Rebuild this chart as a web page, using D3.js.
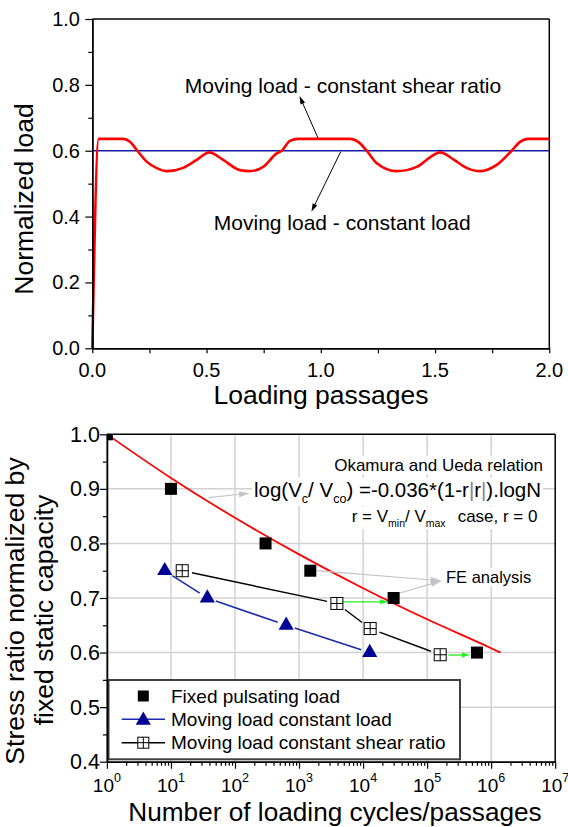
<!DOCTYPE html>
<html><head><meta charset="utf-8">
<script src="https://cdn.jsdelivr.net/npm/d3@7"></script>
<style>body{margin:0;background:#fff}svg{display:block}</style>
</head><body><svg id="c" width="568" height="827"></svg>
<script>
// ===== Top chart data =====
const passX = [0, 0.028, 0.136, 0.165, 0.197, 0.238, 0.282, 0.326, 0.398, 0.457, 0.512, 0.573, 0.646, 0.69, 0.748, 0.807, 0.829, 0.865, 0.90,
               1.128, 1.164, 1.201, 1.245, 1.332, 1.42, 1.478, 1.522, 1.58, 1.638, 1.697, 1.77, 1.835, 1.872, 1.908, 2.0];
const shearRatioLoad = [0, 0.636, 0.636, 0.627, 0.600, 0.567, 0.547, 0.538, 0.548, 0.572, 0.595, 0.572, 0.541, 0.538, 0.551, 0.592, 0.600, 0.630, 0.636,
               0.636, 0.627, 0.600, 0.562, 0.538, 0.551, 0.580, 0.595, 0.574, 0.548, 0.538, 0.557, 0.600, 0.627, 0.636, 0.636];
const constLoadX = [0, 2];
const constLoadY = [0.6, 0.6];
const topXTicks = [0, 0.5, 1.0, 1.5, 2.0];
const topXMinor = [0.25, 0.75, 1.25, 1.75];
const topYTicks = [0, 0.2, 0.4, 0.6, 0.8, 1.0];
const topYMinor = [0.1, 0.3, 0.5, 0.7, 0.9];

// ===== Bottom chart data =====
const fixedN = [1, 10, 300, 1500, 30000, 600000];
const fixedS = [1.0, 0.90, 0.80, 0.75, 0.70, 0.60];
const movLoadN = [8, 37, 630, 12700];
const movLoadS = [0.75, 0.70, 0.65, 0.60];
const movShearN = [15, 3900, 12900, 160000];
const movShearS = [0.75, 0.69, 0.644, 0.596];
const okamuraN = [1, 10, 100, 1000, 10000, 100000, 1000000, 1400000];
const okamuraS = [1.0, 0.920, 0.847, 0.780, 0.718, 0.661, 0.608, 0.600];
const botXExp = [0, 1, 2, 3, 4, 5, 6, 7];
const botYTicks = [0.4, 0.5, 0.6, 0.7, 0.8, 0.9, 1.0];
const botYMinor = [0.45, 0.55, 0.65, 0.75, 0.85, 0.95];
const gridN = [10, 100, 1000, 10000, 100000, 1000000];
const gridS = [0.5, 0.6, 0.7, 0.8, 0.9];

const F = "'Liberation Sans', Arial, Helvetica, sans-serif";
const svg = d3.select("#c");

function arrow(g, x1, y1, x2, y2, color, w, hl, hw) {
  const dx = x2 - x1, dy = y2 - y1, L = Math.hypot(dx, dy), ux = dx / L, uy = dy / L;
  const bx = x2 - ux * hl, by = y2 - uy * hl;
  g.append("line").attr("x1", x1).attr("y1", y1).attr("x2", bx + ux * 1).attr("y2", by + uy * 1)
    .attr("stroke", color).attr("stroke-width", w);
  g.append("path").attr("d", `M${x2},${y2}L${bx - uy * hw / 2},${by + ux * hw / 2}L${bx + uy * hw / 2},${by - ux * hw / 2}Z`)
    .attr("fill", color);
}
function styleAxis(sel) {
  sel.selectAll("path.domain").attr("stroke", "#000").attr("stroke-width", 1.5);
  sel.selectAll(".tick line").attr("stroke", "#000").attr("stroke-width", 1.2);
}

// ================= TOP CHART =================
const xT = d3.scaleLinear().domain([0, 2]).range([92.3, 549.3]);
const yT = d3.scaleLinear().domain([0, 1]).range([348.3, 19]);
const gT = svg.append("g");

gT.append("line").attr("x1", xT(0)).attr("x2", xT(2)).attr("y1", yT(1)).attr("y2", yT(1)).attr("stroke", "#000").attr("stroke-width", 1.5);
gT.append("line").attr("x1", xT(2)).attr("x2", xT(2)).attr("y1", yT(0)).attr("y2", yT(1)).attr("stroke", "#000").attr("stroke-width", 1.5);

gT.append("path")
  .attr("d", d3.line().x((d, i) => xT(constLoadX[i])).y((d, i) => yT(constLoadY[i]))(constLoadX))
  .attr("fill", "none").attr("stroke", "#1818a8").attr("stroke-width", 1.6);
gT.append("path")
  .attr("d", d3.line().x((d, i) => xT(passX[i])).y((d, i) => yT(shearRatioLoad[i])).curve(d3.curveMonotoneX)(passX))
  .attr("fill", "none").attr("stroke", "#ff0000").attr("stroke-width", 2.6).attr("stroke-linejoin", "round");

// axes
gT.append("g").attr("transform", `translate(0,${yT(0)})`)
  .call(d3.axisBottom(xT).tickValues(topXTicks).tickSize(5).tickSizeOuter(0).tickFormat("")).call(styleAxis);
gT.append("g").attr("transform", `translate(0,${yT(0)})`)
  .call(d3.axisBottom(xT).tickValues(topXMinor).tickSize(5).tickSizeOuter(0).tickFormat("")).call(styleAxis);
gT.append("g").attr("transform", `translate(${xT(0)},0)`)
  .call(d3.axisLeft(yT).tickValues(topYTicks).tickSize(7).tickSizeOuter(0).tickFormat("")).call(styleAxis);
gT.append("g").attr("transform", `translate(${xT(0)},0)`)
  .call(d3.axisLeft(yT).tickValues(topYMinor).tickSize(4).tickSizeOuter(0).tickFormat("")).call(styleAxis);

topXTicks.forEach(v => gT.append("text").attr("x", xT(v)).attr("y", 377).attr("text-anchor", "middle")
  .attr("font-family", F).attr("font-size", 20).text(d3.format(".1f")(v)));
topYTicks.forEach(v => gT.append("text").attr("x", 80).attr("y", yT(v) + 7).attr("text-anchor", "end")
  .attr("font-family", F).attr("font-size", 20).text(d3.format(".1f")(v)));

gT.append("text").attr("x", 321).attr("y", 404).attr("text-anchor", "middle").attr("font-family", F)
  .attr("font-size", 26.5).text("Loading passages");
gT.append("text").attr("transform", "translate(33,199) rotate(-90)").attr("text-anchor", "middle").attr("font-family", F)
  .attr("font-size", 26.5).text("Normalized load");

gT.append("text").attr("x", 184.8).attr("y", 93.3).attr("font-family", F).attr("font-size", 21)
  .text("Moving load - constant shear ratio");
gT.append("text").attr("x", 213.8).attr("y", 230).attr("font-family", F).attr("font-size", 21)
  .text("Moving load - constant load");
arrow(gT, xT(0.988), yT(0.638), xT(0.907), yT(0.766), "#000", 1, 8, 5);
arrow(gT, xT(1.087), yT(0.597), xT(0.959), yT(0.415), "#000", 1, 8, 5);

// ================= BOTTOM CHART =================
const xB = d3.scaleLog().domain([1, 1e7]).range([106.9, 555.2]);
const yB = d3.scaleLinear().domain([0.4, 1.0]).range([761.7, 434.3]);
const gB = svg.append("g");

svg.append("defs").append("clipPath").attr("id", "clipB").append("rect")
  .attr("x", xB(1)).attr("y", yB(1)).attr("width", xB(1e7) - xB(1)).attr("height", yB(0.4) - yB(1));

// gridlines
gridN.forEach(n => gB.append("line").attr("x1", xB(n)).attr("x2", xB(n)).attr("y1", yB(0.4)).attr("y2", yB(1))
  .attr("stroke", "#d2d2d2").attr("stroke-width", 1.5));
gridS.forEach(s => gB.append("line").attr("x1", xB(1)).attr("x2", xB(1e7)).attr("y1", yB(s)).attr("y2", yB(s))
  .attr("stroke", "#d2d2d2").attr("stroke-width", 1.5));

// text labels with white background
const gTxt = gB.append("g");
function boxed(textSel) {
  const bb = textSel.node().getBBox();
  gTxt.insert("rect", ":first-child").attr("x", bb.x - 2).attr("y", bb.y).attr("width", bb.width + 4).attr("height", bb.height)
    .attr("fill", "#fff");
}
const t1 = gTxt.append("text").attr("x", 543).attr("y", 470.7).attr("text-anchor", "end").attr("font-family", F)
  .attr("font-size", 17).text("Okamura and Ueda relation");
boxed(t1);
const t2 = gTxt.append("text").attr("x", 254).attr("y", 496.7).attr("font-family", F).attr("font-size", 20.5);
t2.append("tspan").text("log(V");
t2.append("tspan").attr("font-size", 12.5).attr("dy", 6).text("c");
t2.append("tspan").attr("dy", -6).text("/ V");
t2.append("tspan").attr("font-size", 12.5).attr("dy", 6).text("co");
t2.append("tspan").attr("dy", -6).text(") =-0.036*(1-r");
t2.append("tspan").attr("fill", "#888").text("|");
t2.append("tspan").text("r");
t2.append("tspan").attr("fill", "#888").text("|");
t2.append("tspan").text(").logN");
boxed(t2);
const t3 = gTxt.append("text").attr("x", 351.7).attr("y", 521.7).attr("font-family", F).attr("font-size", 17);
t3.append("tspan").text("r = V");
t3.append("tspan").attr("font-size", 10.5).attr("dy", 5.5).text("min");
t3.append("tspan").attr("dy", -5.5).text("/ V");
t3.append("tspan").attr("font-size", 10.5).attr("dy", 5.5).text("max");
t3.append("tspan").attr("dy", -5.5).attr("dx", 12).text("case, r = 0");
boxed(t3);
const t4 = gTxt.append("text").attr("x", 446).attr("y", 583.3).attr("font-family", F).attr("font-size", 16.5).text("FE analysis");
boxed(t4);

// Okamura-Ueda red curve
gB.append("path")
  .attr("d", d3.line().x((d, i) => xB(okamuraN[i])).y((d, i) => yB(okamuraS[i])).curve(d3.curveMonotoneX)(okamuraN))
  .attr("fill", "none").attr("stroke", "#ff0000").attr("stroke-width", 1.8);

// connecting lines with gaps at markers
function gapLine(Ns, Ss, color, w, gap) {
  for (let i = 0; i < Ns.length - 1; i++) {
    const x1 = xB(Ns[i]), y1 = yB(Ss[i]), x2 = xB(Ns[i + 1]), y2 = yB(Ss[i + 1]);
    const L = Math.hypot(x2 - x1, y2 - y1), ux = (x2 - x1) / L, uy = (y2 - y1) / L;
    gB.append("line").attr("x1", x1 + ux * gap).attr("y1", y1 + uy * gap).attr("x2", x2 - ux * gap).attr("y2", y2 - uy * gap)
      .attr("stroke", color).attr("stroke-width", w);
  }
}
gapLine(movLoadN, movLoadS, "#1a2aae", 1.6, 9);
gapLine(movShearN, movShearS, "#000", 1.4, 10);

// annotation arrows
arrow(gB, xB(38.3), yB(0.884), xB(171), yB(0.892), "#c4c4c4", 1.2, 11, 6);
arrow(gB, xB(1906), yB(0.75), xB(1.69e5), yB(0.7315), "#c4c4c4", 1.2, 11, 6);
arrow(gB, xB(33500), yB(0.7073), xB(1.69e5), yB(0.7315), "#c4c4c4", 1.2, 11, 6);
arrow(gB, xB(4630), yB(0.693), xB(24700), yB(0.693), "#22ee22", 1.3, 8, 5);
arrow(gB, xB(2.14e5), yB(0.5955), xB(4.67e5), yB(0.5955), "#22ee22", 1.3, 8, 5);

// markers
const triPath = "M0,-8.7L7.6,4.4L-7.6,4.4Z";
const gM = gB.append("g").attr("clip-path", "url(#clipB)");
fixedN.forEach((n, i) => gM.append("rect").attr("x", xB(n) - 6).attr("y", yB(fixedS[i]) - 6).attr("width", 12).attr("height", 12).attr("fill", "#000"));
movLoadN.forEach((n, i) => gB.append("path").attr("transform", `translate(${xB(n)},${yB(movLoadS[i])})`).attr("d", triPath).attr("fill", "#000096"));
function crossSq(g, cx, cy, s) {
  g.append("rect").attr("x", cx - s / 2).attr("y", cy - s / 2).attr("width", s).attr("height", s).attr("fill", "#fff").attr("stroke", "#000").attr("stroke-width", 1);
  g.append("line").attr("x1", cx).attr("x2", cx).attr("y1", cy - s / 2).attr("y2", cy + s / 2).attr("stroke", "#000").attr("stroke-width", 1);
  g.append("line").attr("x1", cx - s / 2).attr("x2", cx + s / 2).attr("y1", cy).attr("y2", cy).attr("stroke", "#000").attr("stroke-width", 1);
}
movShearN.forEach((n, i) => crossSq(gB, xB(n), yB(movShearS[i]), 12));

// legend
const gL = gB.append("g");
gL.append("rect").attr("x", 108.5).attr("y", 680).attr("width", 351.5).attr("height", 79.3).attr("fill", "#fff")
  .attr("stroke", "#404040").attr("stroke-width", 2);
const legX = 143.3, legRows = [696, 719.3, 742.7];
gL.append("rect").attr("x", legX - 5.5).attr("y", legRows[0] - 5.5).attr("width", 11).attr("height", 11).attr("fill", "#000");
gL.append("line").attr("x1", 121.7).attr("x2", 165).attr("y1", legRows[1]).attr("y2", legRows[1]).attr("stroke", "#1a2aae").attr("stroke-width", 1.6);
gL.append("path").attr("transform", `translate(${legX},${legRows[1] + 1})`).attr("d", triPath).attr("fill", "#000096");
gL.append("line").attr("x1", 121.7).attr("x2", 165).attr("y1", legRows[2]).attr("y2", legRows[2]).attr("stroke", "#000").attr("stroke-width", 1.4);
crossSq(gL, legX, legRows[2], 11);
["Fixed pulsating load", "Moving load constant load", "Moving load constant shear ratio"].forEach((s, i) =>
  gL.append("text").attr("x", 171).attr("y", legRows[i] + 6.7).attr("font-family", F).attr("font-size", 19).text(s));

// frame
gB.append("line").attr("x1", xB(1)).attr("x2", xB(1e7)).attr("y1", yB(1)).attr("y2", yB(1)).attr("stroke", "#000").attr("stroke-width", 1.5);
gB.append("line").attr("x1", xB(1e7)).attr("x2", xB(1e7)).attr("y1", yB(0.4)).attr("y2", yB(1)).attr("stroke", "#000").attr("stroke-width", 1.5);

// axes
const majN = botXExp.map(e => Math.pow(10, e));
const minN = [];
botXExp.slice(0, 7).forEach(e => { for (let m = 2; m <= 9; m++) minN.push(m * Math.pow(10, e)); });
gB.append("g").attr("transform", `translate(0,${yB(0.4)})`)
  .call(d3.axisBottom(xB).tickValues(majN).tickSize(7).tickSizeOuter(0).tickFormat("")).call(styleAxis);
gB.append("g").attr("transform", `translate(0,${yB(0.4)})`)
  .call(d3.axisBottom(xB).tickValues(minN).tickSize(4).tickSizeOuter(0).tickFormat("")).call(styleAxis);
gB.append("g").attr("transform", `translate(${xB(1)},0)`)
  .call(d3.axisLeft(yB).tickValues(botYTicks).tickSize(7).tickSizeOuter(0).tickFormat("")).call(styleAxis);
gB.append("g").attr("transform", `translate(${xB(1)},0)`)
  .call(d3.axisLeft(yB).tickValues(botYMinor).tickSize(4).tickSizeOuter(0).tickFormat("")).call(styleAxis);

botXExp.forEach(e => {
  const t = gB.append("text").attr("x", xB(Math.pow(10, e))).attr("y", 791.7).attr("text-anchor", "middle")
    .attr("font-family", F).attr("font-size", 19);
  t.append("tspan").text("10");
  t.append("tspan").attr("dy", -9.5).attr("font-size", 12.5).text(e);
});
botYTicks.forEach(v => gB.append("text").attr("x", 100).attr("y", yB(v) + 7.5).attr("text-anchor", "end")
  .attr("font-family", F).attr("font-size", 21.5).text(d3.format(".1f")(v)));

gB.append("text").attr("x", 335).attr("y", 821).attr("text-anchor", "middle").attr("font-family", F)
  .attr("font-size", 26.2).text("Number of loading cycles/passages");
gB.append("text").attr("transform", "translate(24,611) rotate(-90)").attr("text-anchor", "middle").attr("font-family", F)
  .attr("font-size", 26.6).text("Stress ratio normalized by");
gB.append("text").attr("transform", "translate(53,610) rotate(-90)").attr("text-anchor", "middle").attr("font-family", F)
  .attr("font-size", 26.6).text("fixed static capacity");
</script></body></html>
